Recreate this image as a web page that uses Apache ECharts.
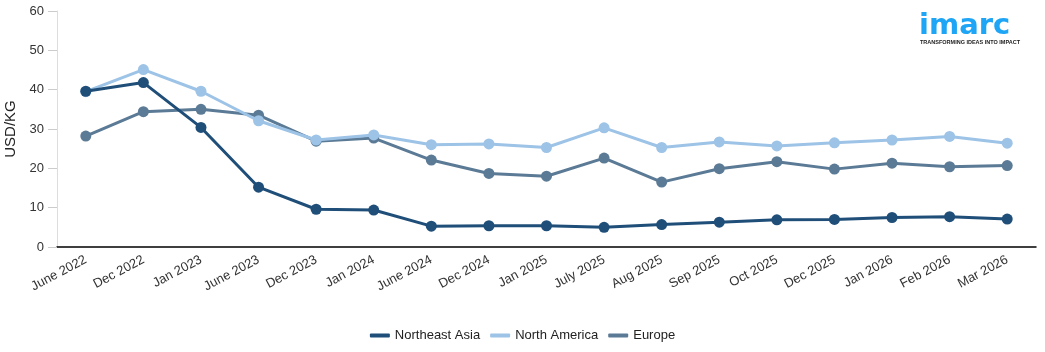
<!DOCTYPE html>
<html>
<head>
<meta charset="utf-8">
<script src="https://cdn.jsdelivr.net/npm/echarts@6/dist/echarts.min.js"></script>
<style>html,body{margin:0;padding:0;background:#fff}#c{width:1045px;height:352px}</style>
</head>
<body>
<div id="c"></div>
<script>
var categories = ['June 2022','Dec 2022','Jan 2023','June 2023','Dec 2023','Jan 2024','June 2024','Dec 2024','Jan 2025','July 2025','Aug 2025','Sep 2025','Oct 2025','Dec 2025','Jan 2026','Feb 2026','Mar 2026'];
var northeastAsia = [39.6,41.8,30.4,15.2,9.6,9.4,5.3,5.4,5.4,5.0,5.7,6.3,6.9,7.0,7.5,7.7,7.1];
var northAmerica = [39.5,45.1,39.6,32.1,27.2,28.5,26.0,26.2,25.3,30.3,25.3,26.7,25.7,26.5,27.2,28.1,26.4];
var europe = [28.2,34.4,35.0,33.5,26.9,27.7,22.1,18.7,18.0,22.6,16.5,19.9,21.7,19.8,21.3,20.4,20.7];
var yTicks = [0,10,20,30,40,50,60];

var font = 'Arial, "Liberation Sans", sans-serif';
var chart = echarts.init(document.getElementById('c'));
function mk(name, data, color, z) {
  return {
    name: name, type: 'line', data: data,
    symbol: 'circle', symbolSize: 11,
    lineStyle: { width: 3, color: color },
    itemStyle: { color: color },
    emphasis: { disabled: true },
    z: z
  };
}
chart.setOption({
  animation: false,
  textStyle: { fontFamily: font },
  grid: { left: 57, right: 9, top: 11, bottom: 105, outerBoundsMode: 'none', containLabel: false },
  legend: {
    bottom: 5, left: 'center',
    icon: 'roundRect', itemWidth: 20, itemHeight: 4, itemGap: 10,
    textStyle: { fontSize: 13, color: '#222', fontFamily: font },
    data: ['Northeast Asia','North America','Europe']
  },
  xAxis: {
    type: 'category', data: categories, boundaryGap: true,
    axisLine: { lineStyle: { color: '#000', width: 1.5 } },
    axisTick: { alignWithLabel: true, length: 8, lineStyle: { color: '#000' } },
    axisLabel: { rotate: 28, fontSize: 13, color: '#333', margin: 12, interval: 0, fontFamily: font }
  },
  yAxis: {
    type: 'value', min: yTicks[0], max: yTicks[yTicks.length-1], interval: 10,
    name: 'USD/KG', nameLocation: 'middle', nameGap: 38,
    nameTextStyle: { fontSize: 15, color: '#222', fontFamily: font },
    axisLine: { show: true, lineStyle: { color: '#ddd' } },
    axisTick: { show: true, length: 9, lineStyle: { color: '#ccc' } },
    splitLine: { show: false },
    axisLabel: { fontSize: 13, color: '#333', margin: 13, fontFamily: font }
  },
  graphic: [
    { type: 'text', x: 919, y: 12, style: { text: 'imarc', font: 'bold 29px "DejaVu Sans", sans-serif', fill: '#1ea5f5', verticalAlign: 'top' } },
    { type: 'text', x: 920, y: 39, style: { text: 'TRANSFORMING IDEAS INTO IMPACT', font: 'bold 5.5px Arial, sans-serif', fill: '#222', verticalAlign: 'top' } }
  ],
  series: [
    mk('Northeast Asia', northeastAsia, '#1f4e79', 4),
    mk('North America', northAmerica, '#9dc3e6', 3),
    mk('Europe', europe, '#5b7a95', 2)
  ]
});
</script>
</body>
</html>
